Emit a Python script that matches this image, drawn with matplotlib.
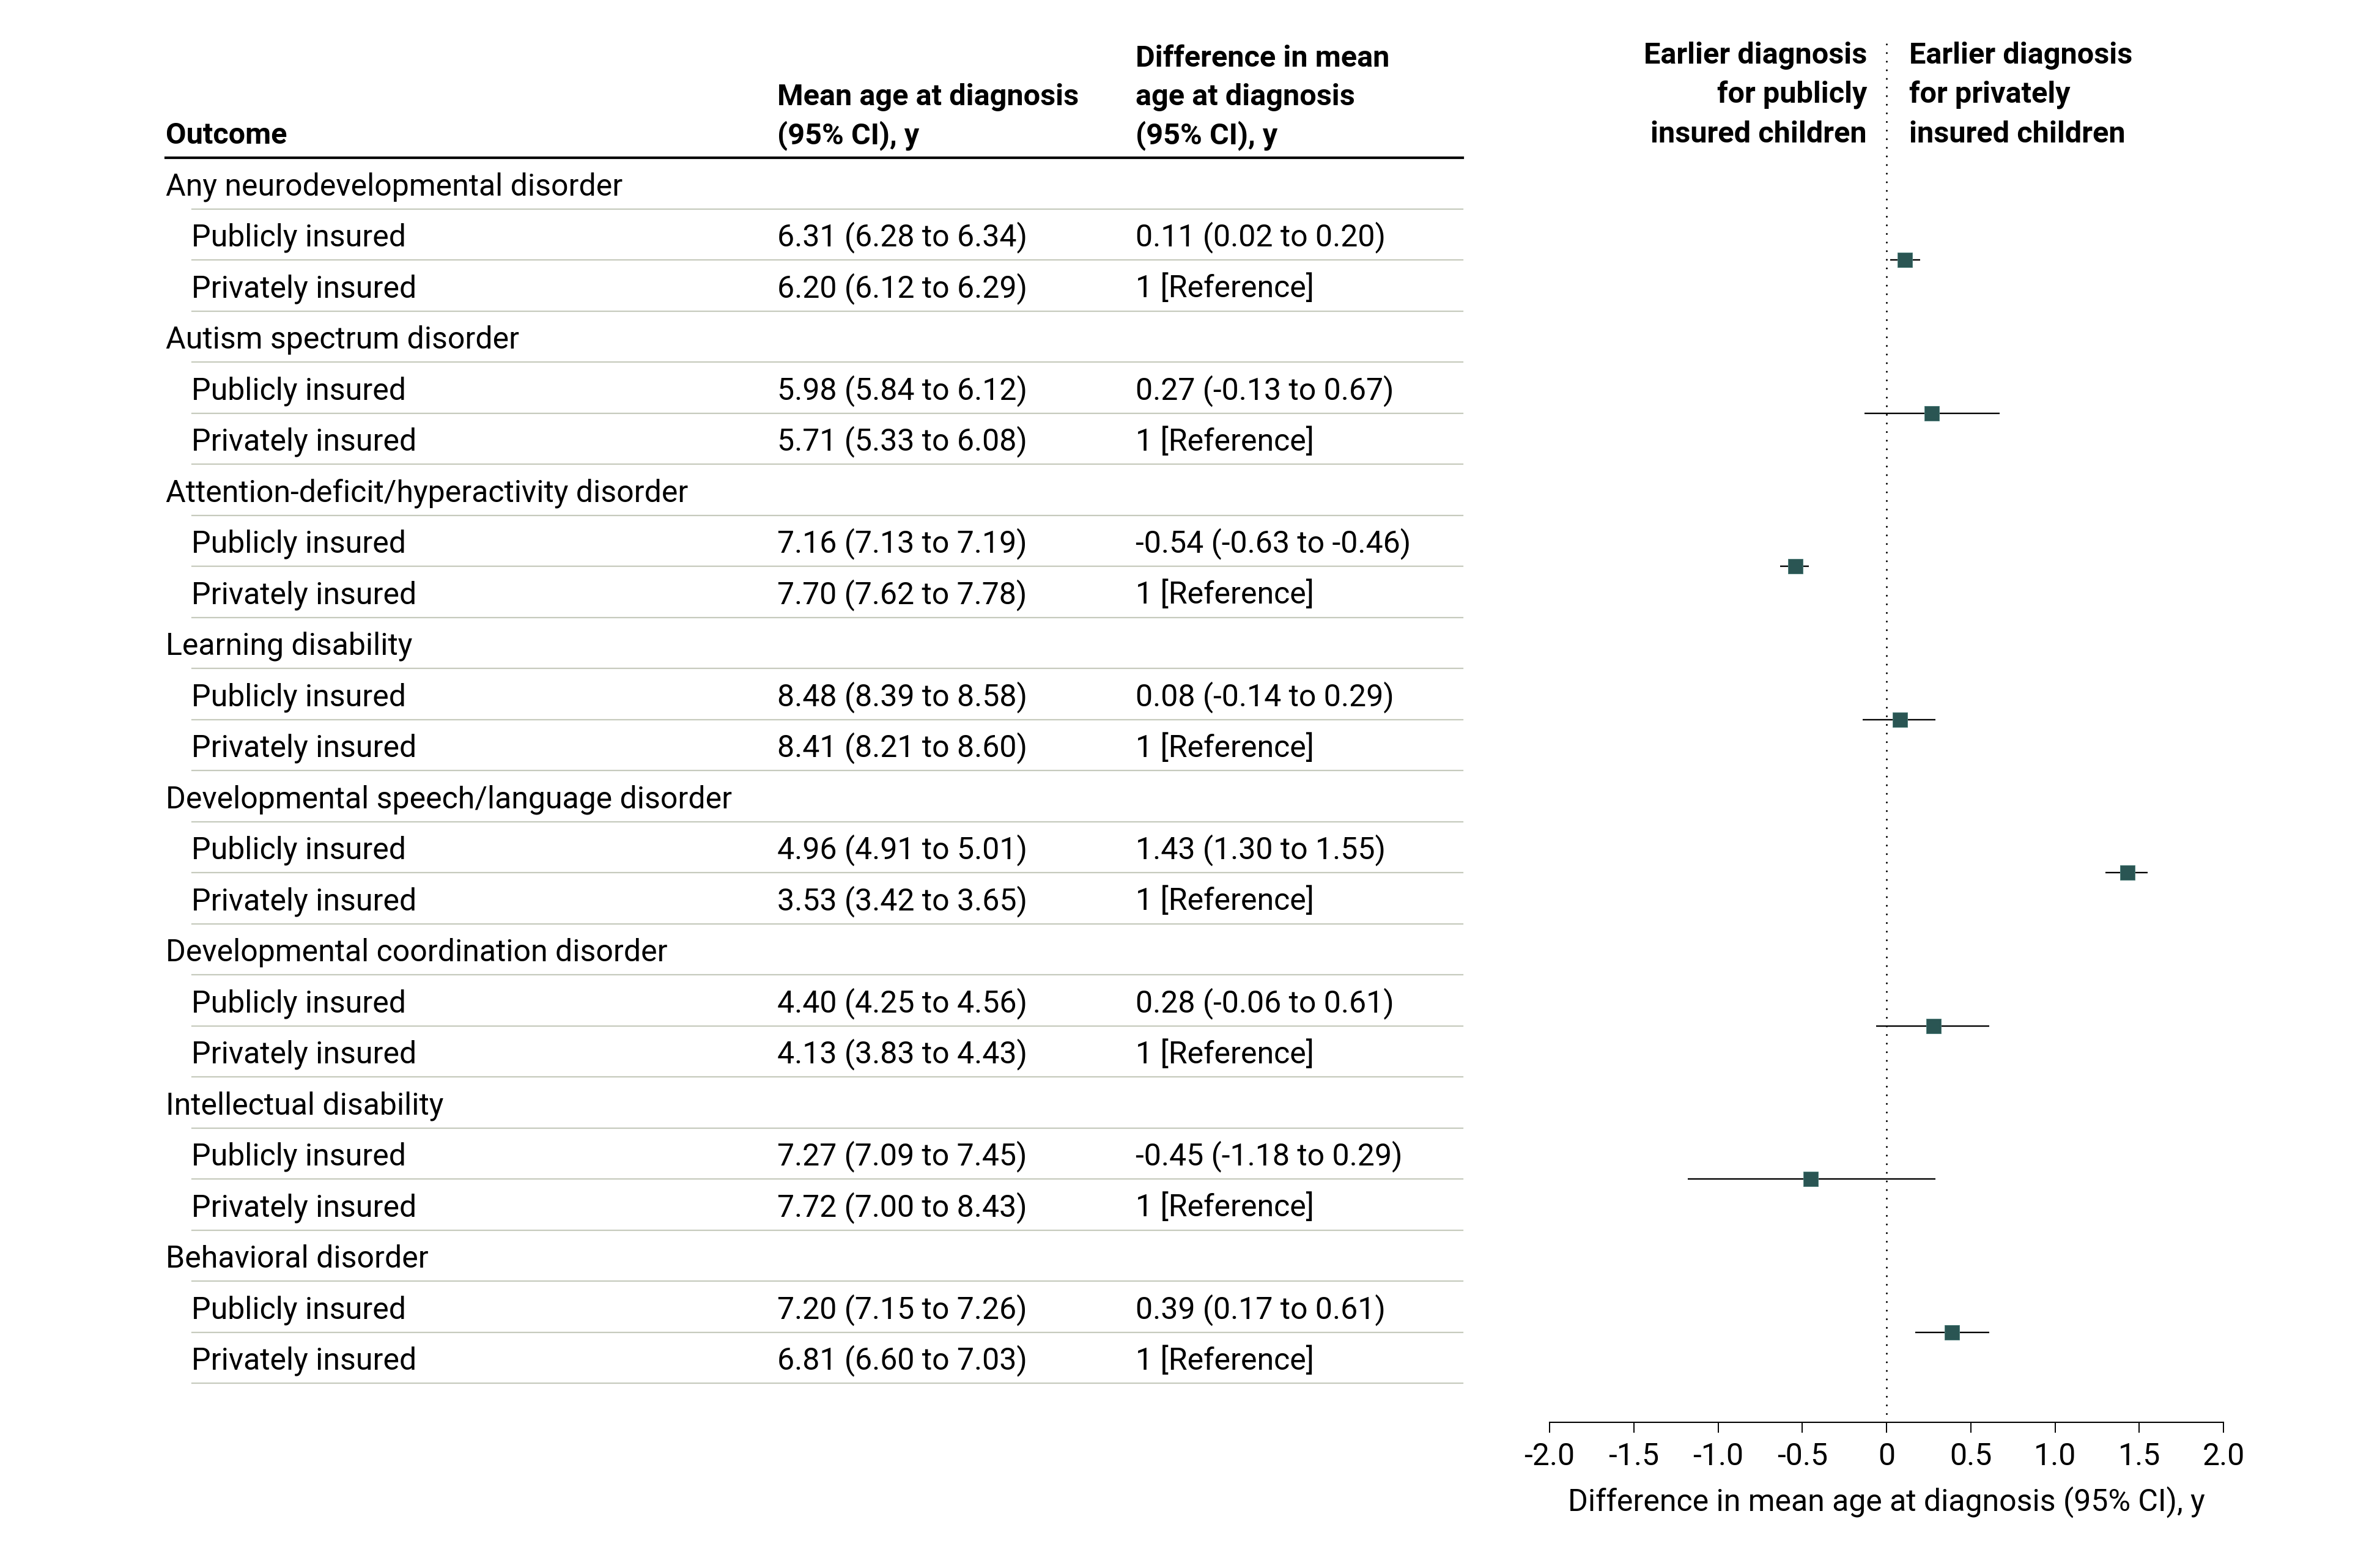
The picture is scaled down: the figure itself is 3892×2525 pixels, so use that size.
import matplotlib
matplotlib.use("Agg")
import matplotlib.pyplot as plt
from matplotlib.lines import Line2D
from matplotlib.transforms import blended_transform_factory

plt.rcParams['font.family'] = ['Roboto', 'DejaVu Sans']
plt.rcParams['axes.unicode_minus'] = False

# ---------------- data ----------------
outcomes = [
    "Any neurodevelopmental disorder",
    "Autism spectrum disorder",
    "Attention-deficit/hyperactivity disorder",
    "Learning disability",
    "Developmental speech/language disorder",
    "Developmental coordination disorder",
    "Intellectual disability",
    "Behavioral disorder",
]
groups = ["Publicly insured", "Privately insured"]
public_mean = ["6.31 (6.28 to 6.34)", "5.98 (5.84 to 6.12)", "7.16 (7.13 to 7.19)",
               "8.48 (8.39 to 8.58)", "4.96 (4.91 to 5.01)", "4.40 (4.25 to 4.56)",
               "7.27 (7.09 to 7.45)", "7.20 (7.15 to 7.26)"]
private_mean = ["6.20 (6.12 to 6.29)", "5.71 (5.33 to 6.08)", "7.70 (7.62 to 7.78)",
                "8.41 (8.21 to 8.60)", "3.53 (3.42 to 3.65)", "4.13 (3.83 to 4.43)",
                "7.72 (7.00 to 8.43)", "6.81 (6.60 to 7.03)"]
diff_text = ["0.11 (0.02 to 0.20)", "0.27 (-0.13 to 0.67)", "-0.54 (-0.63 to -0.46)",
             "0.08 (-0.14 to 0.29)", "1.43 (1.30 to 1.55)", "0.28 (-0.06 to 0.61)",
             "-0.45 (-1.18 to 0.29)", "0.39 (0.17 to 0.61)"]
reference_text = "1 [Reference]"
diff = [0.11, 0.27, -0.54, 0.08, 1.43, 0.28, -0.45, 0.39]
ci_low = [0.02, -0.13, -0.63, -0.14, 1.30, -0.06, -1.18, 0.17]
ci_high = [0.20, 0.67, -0.46, 0.29, 1.55, 0.61, 0.29, 0.61]
xticks = [-2.0, -1.5, -1.0, -0.5, 0.0, 0.5, 1.0, 1.5, 2.0]
xticklabels = ["-2.0", "-1.5", "-1.0", "-0.5", "0", "0.5", "1.0", "1.5", "2.0"]
header_outcome = "Outcome"
header_mean = ["Mean age at diagnosis", "(95% CI), y"]
header_diff = ["Difference in mean", "age at diagnosis", "(95% CI), y"]
left_note = ["Earlier diagnosis", "for publicly", "insured children"]
right_note = ["Earlier diagnosis", "for privately", "insured children"]
xlabel = "Difference in mean age at diagnosis (95% CI), y"

# ---------------- layout ----------------
W, H = 3892, 2525
FS = 36
FSB = 35
fig = plt.figure(figsize=(W / 100, H / 100), dpi=100)
fig.patch.set_facecolor("white")

row_px0, row_step = 300.0, 83.5
ax_top_px, ax_bot_px = 62, 2326
ax = fig.add_axes([2534 / W, (H - ax_bot_px) / H, (3636 - 2534) / W, (ax_bot_px - ax_top_px) / H])
ax.set_ylim((ax_bot_px - row_px0) / row_step, (ax_top_px - row_px0) / row_step)
ax.set_xlim(-2, 2)

trans = blended_transform_factory(fig.transFigure, ax.transData)

x_cat = 271 / W
x_sub = 313 / W
x_col2 = 1271 / W
x_col3 = 1857 / W
x_line0 = 314 / W
x_line1 = 2392 / W
base_off = 0.23

# headers
ax.text(x_cat, -0.778, header_outcome, transform=trans, fontsize=FSB, fontweight="bold",
        ha="left", va="baseline")
for txt, yy in zip(header_mean, [-1.533, -0.778]):
    ax.text(x_col2, yy, txt, transform=trans, fontsize=FSB, fontweight="bold", ha="left", va="baseline")
for txt, yy in zip(header_diff, [-2.287, -1.533, -0.778]):
    ax.text(x_col3, yy, txt, transform=trans, fontsize=FSB, fontweight="bold", ha="left", va="baseline")

fig.add_artist(Line2D([x_cat, x_line1], [-0.5, -0.5], transform=trans, color="black", lw=3.0))

# table rows
for k, name in enumerate(outcomes):
    r = 3 * k
    ax.text(x_cat, r + base_off, name, transform=trans, fontsize=FS, ha="left", va="baseline")
    ax.text(x_sub, r + 1 + base_off, groups[0], transform=trans, fontsize=FS, ha="left", va="baseline")
    ax.text(x_col2, r + 1 + base_off, public_mean[k], transform=trans, fontsize=FS, ha="left", va="baseline")
    ax.text(x_col3, r + 1 + base_off, diff_text[k], transform=trans, fontsize=FS, ha="left", va="baseline")
    ax.text(x_sub, r + 2 + base_off, groups[1], transform=trans, fontsize=FS, ha="left", va="baseline")
    ax.text(x_col2, r + 2 + base_off, private_mean[k], transform=trans, fontsize=FS, ha="left", va="baseline")
    ax.text(x_col3, r + 2 + base_off, reference_text, transform=trans, fontsize=FS, ha="left", va="baseline")
    for j in range(3):
        fig.add_artist(Line2D([x_line0, x_line1], [r + j + 0.5] * 2, transform=trans,
                              color="#c6cabd", lw=1.6))

# forest plot
ax.axvline(0, color="black", lw=2.2, linestyle=(0, (0.01, 4.6)), dash_capstyle="round", zorder=1)
for k in range(len(outcomes)):
    y = 3 * k + 1.5
    ax.plot([ci_low[k], ci_high[k]], [y, y], color="black", lw=1.7, zorder=2, solid_capstyle="butt")
    ax.plot(diff[k], y, marker="s", ms=17, mfc="#2a5553", mec="#50807c", mew=0.7, zorder=3,
            linestyle="none")

# notes
for txt, yy in zip(left_note, [-2.35, -1.58, -0.8]):
    ax.text(-0.116, yy, txt, fontsize=FSB, fontweight="bold", ha="right", va="baseline")
for txt, yy in zip(right_note, [-2.35, -1.58, -0.8]):
    ax.text(0.134, yy, txt, fontsize=FSB, fontweight="bold", ha="left", va="baseline")

# axis styling
for s in ["left", "right", "top"]:
    ax.spines[s].set_visible(False)
ax.spines["bottom"].set_linewidth(1.5)
ax.spines["bottom"].set_bounds(-2, 2)
ax.set_yticks([])
ax.set_xticks(xticks)
ax.set_xticklabels(xticklabels)
ax.tick_params(axis="x", length=12.2, width=1.4, pad=11, labelsize=FS, direction="out")
ax.set_xlabel(xlabel, fontsize=FS, labelpad=17)
ax.patch.set_alpha(0)

fig.savefig("out.png", dpi=100, facecolor="white")
